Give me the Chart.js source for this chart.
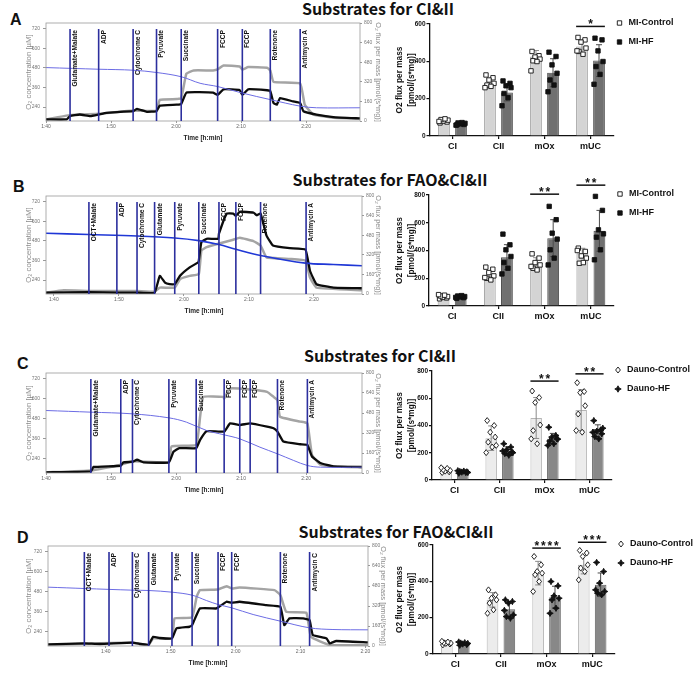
<!DOCTYPE html>
<html lang="en">
<head>
<meta charset="UTF-8">
<title>Substrates for CI&amp;II / FAO&amp;CI&amp;II</title>
<script src="https://cdn.jsdelivr.net/npm/chart.js"></script>
<style>
  body { margin: 0; width: 696px; height: 676px; position: relative; overflow: hidden; background: #fff; }
  canvas { position: absolute; }
  .ttl { position: absolute; white-space: nowrap; transform: translate(-50%, -50%);
         font-family: 'Noto Sans CJK KR', 'Open Sans', sans-serif; font-weight: 700; font-size: 16px; line-height: 1; color: #111; }
  .lt { position: absolute; font-family: 'Liberation Sans', Arial, sans-serif; font-weight: 700; font-size: 16px; line-height: 1; color: #111; }
</style>
</head>
<body>
  <div class="lt" style="left:10px;top:12px">A</div>
  <div class="lt" style="left:13px;top:179px">B</div>
  <div class="lt" style="left:17px;top:356px">C</div>
  <div class="lt" style="left:17px;top:530px">D</div>
  <div class="ttl" style="left:378px;top:8px">Substrates for CI&amp;II</div>
  <div class="ttl" style="left:390px;top:179px">Substrates for FAO&amp;CI&amp;II</div>
  <div class="ttl" style="left:380px;top:355px">Substrates for CI&amp;II</div>
  <div class="ttl" style="left:396px;top:531px">Substrates for FAO&amp;CI&amp;II</div>

  <canvas id="trA" style="left:0;top:14px" width="385" height="134"></canvas>
  <canvas id="trB" style="left:0;top:186px" width="385" height="135"></canvas>
  <canvas id="trC" style="left:0;top:362px" width="385" height="138"></canvas>
  <canvas id="trD" style="left:0;top:535px" width="390" height="138"></canvas>
  <canvas id="barA" style="left:385px;top:0" width="311" height="158"></canvas>
  <canvas id="barB" style="left:385px;top:160px" width="311" height="168"></canvas>
  <canvas id="barC" style="left:385px;top:335px" width="311" height="167"></canvas>
  <canvas id="barD" style="left:385px;top:510px" width="311" height="166"></canvas>

<script>
// ---------- shared axis ticks ----------
const timeTicks = [100, 110, 120, 130, 140];          // minutes -> 1:40 ... 2:20
const o2Ticks = [240, 360, 480, 600, 720];
const fluxTicks = [0, 160, 320, 480, 640, 800];

// ---------- trace A (CI&II, MI) ----------
const eventTimesA = [103.7, 108.1, 113.4, 117.0, 120.8, 126.4, 130.2, 134.5, 139.1];
const eventsA = ['Glutamate+Malate', 'ADP', 'Cytochrome C', 'Pyruvate', 'Succinate', 'FCCP', 'FCCP', 'Rotenone', 'Antimycin A'];
const o2TimeA = [100.0, 108.1, 113.4, 117.0, 120.8, 123.7, 126.4, 130.2, 134.5, 139.1, 141.6, 148.3];
const o2A = [482, 472, 466, 452, 426, 386, 366, 326, 286, 246, 236, 236];
const greyTimeA = [100.0, 103.7, 108.1, 113.4, 117.0, 117.5, 120.1, 120.8, 121.6, 122.7, 125.7, 126.4, 127.3, 129.8, 130.2, 131.1, 134.0, 134.5, 135.0, 139.1, 139.8, 141.1, 144.2, 148.3];
const greyFluxA = [13, 48, 59, 85, 85, 173, 179, 187, 387, 413, 413, 421, 453, 445, 419, 440, 435, 413, 320, 307, 133, 53, 27, 21];
const blackTimeA = [100.0, 103.2, 103.7, 105.2, 106.8, 108.1, 109.3, 113.4, 114.0, 115.5, 117.0, 117.5, 120.1, 120.8, 121.6, 125.7, 126.4, 127.3, 129.8, 130.2, 131.1, 134.0, 134.5, 135.0, 135.5, 136.0, 138.0, 139.1, 139.6, 141.6, 144.2, 148.3];
const blackFluxA = [13, 13, 40, 53, 40, 53, 67, 80, 99, 75, 80, 125, 133, 139, 232, 232, 213, 259, 253, 213, 259, 251, 245, 147, 133, 187, 160, 147, 80, 53, 32, 21];

// ---------- trace B (FAO&CI&II, MI) ----------
const eventTimesB = [105.4, 109.7, 112.8, 115.5, 118.6, 122.3, 125.4, 128.0, 131.8, 138.8];
const eventsB = ['OCT+Malate', 'ADP', 'Cytochrome C', 'Glutamate', 'Pyruvate', 'Succinate', 'FCCP', 'FCCP', 'Rotenone', 'Antimycin A'];
const o2TimeB = [98.8, 105.4, 112.8, 118.6, 122.3, 125.4, 128.0, 131.8, 138.7, 143.0, 147.4];
const o2B = [527, 519, 510, 498, 482, 458, 429, 391, 344, 336, 328];
const greyTimeB = [98.8, 101.5, 105.4, 109.7, 112.8, 115.5, 116.3, 118.6, 119.4, 120.9, 122.3, 122.7, 123.5, 125.3, 127.6, 128.6, 130.7, 131.8, 132.7, 136.3, 138.7, 139.4, 140.4, 147.4];
const greyFluxB = [11, 30, 25, 25, 25, 19, 52, 52, 121, 148, 162, 355, 382, 410, 443, 459, 432, 396, 300, 286, 272, 135, 52, 30];
const blackTimeB = [98.8, 105.4, 109.7, 112.8, 115.5, 116.3, 117.1, 117.8, 118.6, 119.4, 120.9, 122.2, 122.3, 122.7, 123.5, 125.3, 125.4, 126.6, 127.6, 128.0, 128.6, 130.7, 131.2, 131.8, 132.7, 133.7, 136.3, 138.7, 139.4, 140.4, 143.0, 147.4];
const blackFluxB = [11, 16, 11, 11, 11, 148, 93, 80, 80, 148, 217, 258, 272, 423, 451, 451, 492, 657, 657, 638, 671, 665, 643, 657, 478, 396, 374, 363, 190, 80, 52, 47];

// ---------- trace C (CI&II, Dauno) ----------
const eventTimesC = [106.9, 111.5, 113.3, 118.9, 123.1, 127.4, 129.8, 131.4, 135.6, 140.2];
const eventsC = ['Glutamate+Malate', 'ADP', 'Cytochrome C', 'Pyruvate', 'Succinate', 'FCCP', 'FCCP', 'FCCP', 'Rotenone', 'Antimycin A'];
const o2TimeC = [100.0, 106.9, 113.3, 118.9, 121.6, 124.7, 127.4, 129.8, 132.9, 135.6, 138.1, 140.2, 142.2, 148.6];
const o2C = [530, 520, 510, 486, 460, 410, 384, 360, 310, 270, 230, 200, 190, 190];
const greyTimeC = [100.0, 106.9, 111.5, 113.3, 118.9, 119.3, 123.1, 123.7, 124.2, 127.3, 127.4, 128.3, 131.4, 134.0, 135.0, 135.6, 136.0, 139.1, 140.2, 140.9, 142.2, 144.2, 148.6];
const greyFluxC = [5, 21, 66, 93, 85, 212, 225, 450, 609, 609, 596, 676, 668, 649, 609, 583, 450, 411, 398, 146, 66, 53, 45];
const blackTimeC = [100.0, 106.9, 107.3, 111.5, 111.9, 113.3, 114.0, 115.0, 118.9, 119.6, 120.5, 123.1, 123.7, 124.7, 127.4, 128.3, 129.8, 131.4, 134.0, 135.0, 135.6, 136.5, 139.1, 140.2, 140.9, 142.2, 144.2, 148.6];
const blackFluxC = [5, 13, 48, 58, 85, 90, 106, 85, 85, 170, 199, 199, 265, 335, 331, 397, 384, 397, 371, 358, 331, 252, 230, 225, 132, 80, 53, 48];

// ---------- trace D (FAO&CI&II, Dauno) ----------
const eventTimesD = [96.7, 100.5, 104.1, 106.6, 110.2, 113.3, 117.3, 119.4, 126.9, 131.4];
const eventsD = ['OCT+Malate', 'ADP', 'Cytochrome C', 'Glutamate', 'Pyruvate', 'Succinate', 'FCCP', 'FCCP', 'Rotenone', 'Antimycin C'];
const o2TimeD = [91.1, 96.7, 104.1, 106.6, 110.2, 113.3, 115.5, 117.3, 119.4, 122.7, 126.9, 131.4, 135.0, 140.4];
const o2D = [508, 500, 490, 488, 478, 460, 428, 404, 384, 344, 304, 264, 254, 252];
const greyTimeD = [91.1, 104.1, 106.6, 107.3, 110.2, 110.6, 113.3, 114.0, 114.5, 117.3, 118.6, 119.4, 120.6, 126.0, 126.9, 127.8, 130.9, 131.6, 134.5, 140.4];
const greyFluxD = [8, 29, 8, 61, 61, 221, 229, 393, 447, 452, 478, 460, 468, 447, 407, 274, 266, 74, 8, 8];
const blackTimeD = [91.1, 96.7, 99.1, 104.1, 105.2, 106.6, 107.3, 108.3, 110.2, 110.9, 112.9, 113.3, 114.5, 117.0, 117.3, 118.6, 119.4, 120.6, 124.7, 126.9, 127.5, 128.3, 130.4, 131.4, 131.9, 134.0, 134.5, 135.5, 140.4];
const blackFluxD = [13, 21, 16, 27, 16, 11, 74, 64, 61, 141, 154, 167, 300, 300, 308, 354, 346, 354, 327, 314, 167, 221, 221, 207, 88, 61, 21, 40, 29];

// ---------- bar charts ----------
const categories = ['CI', 'CII', 'mOx', 'mUC'];
const legendMI = ['MI-Control', 'MI-HF'];
const legendDauno = ['Dauno-Control', 'Dauno-HF'];

const ctrlMeanA = [80, 282, 426, 480];
const ctrlSdA = [10, 25, 32, 35];
const hfMeanA = [66, 233, 339, 404];
const hfSdA = [6, 45, 75, 85];
const ctrlPtsA = [[70, 75, 80, 85, 88, 92, 78], [327, 312, 300, 282, 273, 266, 259], [453, 430, 423, 412, 403, 399, 349], [528, 515, 503, 471, 453, 438, 456]];
const hfPtsA = [[60, 62, 65, 68, 70, 72, 58], [295, 282, 269, 259, 228, 205, 162], [449, 426, 381, 336, 300, 273, 237], [524, 515, 456, 399, 372, 330, 277]];
const sigCatsA = [3], sigYA = [587], sigTextA = ['*'];

const ctrlMeanB = [65, 217, 308, 381];
const ctrlSdB = [12, 30, 40, 35];
const hfMeanB = [65, 352, 489, 542];
const hfSdB = [10, 90, 133, 147];
const ctrlPtsB = [[52, 58, 62, 68, 72, 78, 82], [280, 265, 241, 217, 200, 188, 205], [376, 345, 313, 296, 272, 260, 285], [417, 393, 361, 345, 308, 313, 400]];
const hfPtsB = [[55, 60, 65, 68, 72, 75, 62], [518, 441, 405, 357, 313, 272, 231], [718, 622, 525, 482, 405, 345, 296], [790, 689, 549, 520, 496, 405, 333]];
const sigCatsB = [2, 3], sigYB = [806, 871], sigTextB = ['**', '**'];

const ctrlMeanC = [70, 307, 455, 513];
const ctrlSdC = [12, 90, 150, 150];
const hfMeanC = [58, 213, 302, 375];
const hfSdC = [8, 30, 40, 30];
const ctrlPtsC = [[55, 60, 65, 70, 75, 85, 90], [436, 400, 351, 315, 278, 242, 201, 254], [653, 605, 569, 404, 363, 266, 302], [714, 649, 641, 545, 484, 351, 363]];
const hfPtsC = [[50, 55, 58, 60, 62, 65, 68, 55], [266, 242, 223, 206, 194, 182, 213, 200], [387, 327, 315, 302, 286, 266, 254, 300], [436, 368, 358, 339, 319, 302, 350, 380]];
const sigCatsC = [2, 3], sigYC = [726, 779], sigTextC = ['**', '**'];

const ctrlMeanD = [59, 298, 445, 491];
const ctrlSdD = [8, 40, 65, 50];
const hfMeanD = [55, 247, 313, 381];
const hfSdD = [8, 40, 60, 65];
const ctrlPtsD = [[50, 55, 58, 60, 62, 66, 70], [353, 326, 307, 298, 280, 243, 224], [537, 491, 454, 445, 436, 399, 344], [570, 556, 537, 491, 473, 454, 408]];
const hfPtsD = [[48, 52, 55, 58, 60, 62, 66], [298, 289, 280, 215, 206, 197, 240], [399, 375, 320, 307, 298, 252, 224], [504, 454, 390, 344, 335, 326, 353]];
const sigCatsD = [2, 3], sigYD = [583, 615], sigTextD = ['****', '***'];

// ---------- drawing ----------
Chart.defaults.font.family = "'Liberation Sans', Arial, sans-serif";
Chart.defaults.color = '#111';

const xy = (ts, vs) => ts.map((t, i) => ({x: t, y: vs[i]}));
const hm = v => { const h = Math.floor(v / 60); return h + ':' + String(Math.round(v - h * 60)).padStart(2, '0'); };
const setTicks = arr => s => { s.ticks = arr.map(v => ({value: v})); };

function eventPlugin(times, labels) {
  return {
    id: 'events',
    afterDatasetsDraw(chart) {
      const {ctx, chartArea: a, scales: {x}} = chart;
      ctx.save();
      ctx.strokeStyle = '#9a9a9a';
      ctx.lineWidth = 0.8;
      ctx.strokeRect(a.left, a.top, a.right - a.left, a.bottom - a.top);
      times.forEach((t, i) => {
        const px = x.getPixelForValue(t);
        ctx.strokeStyle = '#2c2f9e';
        ctx.lineWidth = 1.6;
        ctx.beginPath();
        ctx.moveTo(px, a.top + 6);
        ctx.lineTo(px, a.bottom);
        ctx.stroke();
        ctx.save();
        ctx.translate(px + 1.8, a.top + 7);
        ctx.rotate(-Math.PI / 2);
        ctx.font = "bold 6.6px 'Liberation Sans', Arial, sans-serif";
        ctx.fillStyle = '#111';
        ctx.textAlign = 'right';
        ctx.textBaseline = 'top';
        ctx.fillText(labels[i], 0, 0);
        ctx.restore();
      });
      ctx.restore();
    }
  };
}

function traceChart(id, box, range, evT, evL, o2T, o2V, gT, gV, kT, kV, blue) {
  return new Chart(document.getElementById(id), {
    type: 'line',
    data: {datasets: [
      {data: xy(o2T, o2V), yAxisID: 'y', borderColor: blue.color, borderWidth: blue.width, tension: 0.35},
      {data: xy(kT, kV), yAxisID: 'y1', borderColor: '#0c0c0c', borderWidth: 2.3, tension: 0.1},
      {data: xy(gT, gV), yAxisID: 'y1', borderColor: '#a4a4a4', borderWidth: 2.5, tension: 0.1}
    ]},
    options: {
      responsive: false, animation: false, events: [],
      layout: {padding: {top: box.top, left: 0, right: 0, bottom: 0}},
      plugins: {legend: {display: false}, tooltip: {enabled: false}},
      elements: {point: {radius: 0}},
      scales: {
        x: {
          type: 'linear', min: range[0], max: range[1],
          afterBuildTicks: setTicks(timeTicks),
          afterFit: s => { s.height = 27; },
          ticks: {font: {size: 5}, color: '#666', padding: 1, maxRotation: 0, callback: v => hm(v)},
          grid: {drawOnChartArea: false, tickLength: 2, color: '#999'},
          border: {display: false},
          title: {display: true, text: 'Time [h:min]', color: '#222', font: {size: 6.5, weight: 'bold'}, padding: {top: 0, bottom: 6}}
        },
        y: {
          position: 'left', min: 155, max: 755,
          afterBuildTicks: setTicks(o2Ticks),
          afterFit: s => { s.width = box.left; },
          ticks: {font: {size: 5}, color: '#777', padding: 3},
          grid: {drawOnChartArea: false, tickLength: 3, color: '#999'},
          border: {display: false},
          title: {display: true, text: 'O\u2082 concentration [\u00b5M]', color: '#8a8a8a', font: {size: 7.8}, padding: {top: 24}}
        },
        y1: {
          position: 'right', min: 0, max: 800,
          afterBuildTicks: setTicks(fluxTicks),
          afterFit: s => { s.width = box.right; },
          ticks: {font: {size: 5}, color: '#777', padding: 2},
          grid: {drawOnChartArea: false, tickLength: 2, color: '#999'},
          border: {display: false},
          title: {display: true, text: 'O\u2082 flux per mass [pmol/(s*mg)]', color: '#8a8a8a', font: {size: 7.3}, padding: {top: 2.5}}
        }
      }
    },
    plugins: [eventPlugin(evT, evL)]
  });
}

function marker(ctx, shape, filled, x, y) {
  ctx.beginPath();
  if (shape === 'square') {
    ctx.rect(x - 2.2, y - 2.2, 4.4, 4.4);
  } else if (filled) {
    const r = 3.2, q = 1.1;
    ctx.moveTo(x, y - r); ctx.lineTo(x + q, y - q); ctx.lineTo(x + r, y); ctx.lineTo(x + q, y + q);
    ctx.lineTo(x, y + r); ctx.lineTo(x - q, y + q); ctx.lineTo(x - r, y); ctx.lineTo(x - q, y - q);
    ctx.closePath();
  } else {
    ctx.moveTo(x, y - 3); ctx.lineTo(x + 2.4, y); ctx.lineTo(x, y + 3); ctx.lineTo(x - 2.4, y);
    ctx.closePath();
  }
  ctx.fillStyle = filled ? '#111' : '#fff';
  ctx.fill();
  ctx.lineWidth = 0.9;
  ctx.strokeStyle = '#111';
  ctx.stroke();
}

const jitter = [-4, 3, -1, 4, -3, 1, -5, 5];

function barPlugin(sd, pts, sigCats, sigY, sigText, legend, shape) {
  return {
    id: 'barExtras',
    afterDatasetsDraw(chart) {
      const {ctx, chartArea: a, scales: {y}} = chart;
      ctx.save();
      [0, 1].forEach(d => {
        const meta = chart.getDatasetMeta(d);
        const means = chart.data.datasets[d].data;
        meta.data.forEach((bar, i) => {
          const top = y.getPixelForValue(means[i] + sd[d][i]);
          const bot = y.getPixelForValue(Math.max(0, means[i] - sd[d][i]));
          ctx.strokeStyle = d ? '#4a4a4a' : '#8a8a8a';
          ctx.lineWidth = 1;
          ctx.beginPath();
          ctx.moveTo(bar.x, top); ctx.lineTo(bar.x, bot);
          ctx.moveTo(bar.x - 3, top); ctx.lineTo(bar.x + 3, top);
          ctx.moveTo(bar.x - 3, bot); ctx.lineTo(bar.x + 3, bot);
          ctx.stroke();
          pts[d][i].forEach((v, j) => marker(ctx, shape, d === 1, bar.x + jitter[j % jitter.length], y.getPixelForValue(v)));
        });
      });
      sigCats.forEach((c, k) => {
        const b0 = chart.getDatasetMeta(0).data[c], b1 = chart.getDatasetMeta(1).data[c];
        const py = y.getPixelForValue(sigY[k]);
        ctx.strokeStyle = '#111';
        ctx.lineWidth = 1.5;
        ctx.beginPath();
        ctx.moveTo(b0.x - b0.width / 2, py); ctx.lineTo(b1.x + b1.width / 2, py);
        ctx.stroke();
        ctx.font = "bold 12px 'Liberation Sans', Arial, sans-serif";
        ctx.fillStyle = '#111';
        ctx.textAlign = 'center';
        ctx.textBaseline = 'alphabetic';
        const n = sigText[k].length, cx = (b0.x + b1.x) / 2;
        for (let s = 0; s < n; s++) ctx.fillText('*', cx + (s - (n - 1) / 2) * 6.5, py + 2);
      });
      legend.forEach((txt, k) => {
        const ly = a.top - 1 + k * 19;
        marker(ctx, shape, k === 1, a.right + 6, ly);
        ctx.font = "bold 9px 'Liberation Sans', Arial, sans-serif";
        ctx.fillStyle = '#111';
        ctx.textAlign = 'left';
        ctx.textBaseline = 'middle';
        ctx.fillText(txt, a.right + 15, ly);
      });
      ctx.restore();
    }
  };
}

function barChart(id, box, ymax, ctrlMean, hfMean, ctrlSd, hfSd, ctrlPts, hfPts, sigCats, sigY, sigText, legend, shape, col) {
  return new Chart(document.getElementById(id), {
    type: 'bar',
    data: {
      labels: categories,
      datasets: [
        {data: ctrlMean, backgroundColor: col[0], borderColor: col[1], borderWidth: 1, barPercentage: 0.69, categoryPercentage: 0.74},
        {data: hfMean, backgroundColor: col[2], borderColor: col[3], borderWidth: 1, barPercentage: 0.69, categoryPercentage: 0.74}
      ]
    },
    options: {
      responsive: false, animation: false, events: [],
      layout: {padding: {top: box.top, right: box.right, left: 0, bottom: 0}},
      plugins: {legend: {display: false}, tooltip: {enabled: false}},
      scales: {
        x: {
          afterFit: s => { s.height = 22; },
          ticks: {font: {size: 9, weight: 'bold'}, color: '#111', padding: 2},
          grid: {drawOnChartArea: false, offset: false, tickLength: 3, color: '#111', lineWidth: 1.2},
          border: {display: true, color: '#111', width: 1.3}
        },
        y: {
          min: 0, max: ymax,
          afterFit: s => { s.width = box.left; },
          ticks: {stepSize: 200, font: {size: 6.5, weight: 'bold'}, color: '#111', padding: 1},
          grid: {drawOnChartArea: false, tickLength: 3, color: '#111', lineWidth: 1.2},
          border: {display: true, color: '#111', width: 1.3},
          title: {display: true, text: ['O2 flux per mass', '[pmol/(s*mg)]'], color: '#111',
                  font: {size: 8.3, weight: 'bold', lineHeight: 1.45}, padding: {top: 9}}
        }
      }
    },
    plugins: [barPlugin([ctrlSd, hfSd], [ctrlPts, hfPts], sigCats, sigY, sigText, legend, shape)]
  });
}

const thinBlue = {color: '#6c6ce4', width: 1};
traceChart('trA', {top: 9, left: 46, right: 25}, [100, 148.3], eventTimesA, eventsA, o2TimeA, o2A, greyTimeA, greyFluxA, blackTimeA, blackFluxA, thinBlue);
traceChart('trB', {top: 10, left: 46, right: 23}, [98.8, 147.4], eventTimesB, eventsB, o2TimeB, o2B, greyTimeB, greyFluxB, blackTimeB, blackFluxB, {color: '#1f37d6', width: 1.6});
traceChart('trC', {top: 11, left: 46, right: 23}, [100, 148.6], eventTimesC, eventsC, o2TimeC, o2C, greyTimeC, greyFluxC, blackTimeC, blackFluxC, thinBlue);
traceChart('trD', {top: 11, left: 48, right: 22}, [91.1, 140.4], eventTimesD, eventsD, o2TimeD, o2D, greyTimeD, greyFluxD, blackTimeD, blackFluxD, thinBlue);

const miColors = ['#d4d4d4', '#9c9c9c', '#707070', '#4e4e4e'];
const daunoColors = ['#ececec', '#b4b4b4', '#888888', '#626262'];
barChart('barA', {top: 24, left: 44.5, right: 82.5}, 600, ctrlMeanA, hfMeanA, ctrlSdA, hfSdA, ctrlPtsA, hfPtsA, sigCatsA, sigYA, sigTextA, legendMI, 'square', miColors);
barChart('barB', {top: 35, left: 44, right: 82}, 800, ctrlMeanB, hfMeanB, ctrlSdB, hfSdB, ctrlPtsB, hfPtsB, sigCatsB, sigYB, sigTextB, legendMI, 'square', miColors);
barChart('barC', {top: 36, left: 47, right: 84}, 800, ctrlMeanC, hfMeanC, ctrlSdC, hfSdC, ctrlPtsC, hfPtsC, sigCatsC, sigYC, sigTextC, legendDauno, 'diamond', daunoColors);
barChart('barD', {top: 35, left: 47.5, right: 81}, 600, ctrlMeanD, hfMeanD, ctrlSdD, hfSdD, ctrlPtsD, hfPtsD, sigCatsD, sigYD, sigTextD, legendDauno, 'diamond', daunoColors);
</script>
</body>
</html>
